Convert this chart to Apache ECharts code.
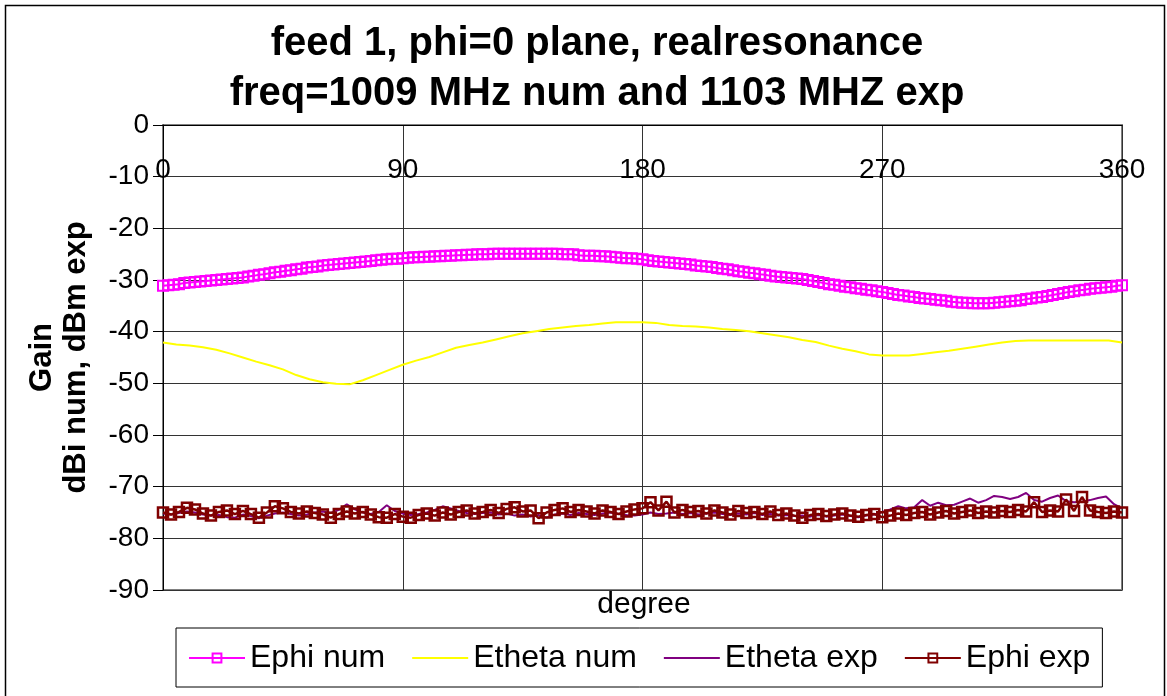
<!DOCTYPE html>
<html>
<head>
<meta charset="utf-8">
<script src="https://cdn.jsdelivr.net/npm/echarts@6/dist/echarts.min.js"></script>
<style>
html,body{margin:0;padding:0;background:#fff;}
#chart{width:1167px;height:696px;}
</style>
</head>
<body>
<div id="chart"></div>
<script>
// ---- data ----
var xTicks = [0, 90, 180, 270, 360];
var yTicks = [0, -10, -20, -30, -40, -50, -60, -70, -80, -90];
var seriesNames = ['Ephi num', 'Etheta num', 'Etheta exp', 'Ephi exp'];

// Ephi num, every 2 degrees from 0 to 360
var ephiNumStep = 2;
var ephiNum = [
-31.1,-31.0,-30.9,-30.8,-30.6,-30.5,-30.4,-30.3,-30.2,-30.1,
-30.0,-29.9,-29.8,-29.7,-29.6,-29.5,-29.3,-29.2,-29.0,-28.9,
-28.7,-28.5,-28.4,-28.2,-28.1,-27.9,-27.8,-27.6,-27.5,-27.4,
-27.2,-27.1,-27.0,-26.9,-26.8,-26.7,-26.6,-26.5,-26.4,-26.3,
-26.2,-26.1,-26.0,-25.9,-25.9,-25.8,-25.7,-25.6,-25.6,-25.5,
-25.5,-25.4,-25.4,-25.3,-25.3,-25.2,-25.2,-25.1,-25.1,-25.0,
-25.0,-25.0,-24.9,-24.9,-24.9,-24.9,-24.9,-24.9,-24.9,-24.9,
-24.9,-24.9,-24.9,-24.9,-24.9,-25.0,-25.0,-25.0,-25.2,-25.3,
-25.3,-25.3,-25.4,-25.4,-25.5,-25.6,-25.7,-25.8,-25.8,-25.9,
-26.0,-26.2,-26.3,-26.4,-26.5,-26.6,-26.7,-26.8,-26.9,-27.0,
-27.2,-27.3,-27.4,-27.5,-27.7,-27.8,-27.9,-28.1,-28.3,-28.4,
-28.6,-28.7,-28.9,-29.0,-29.2,-29.3,-29.4,-29.5,-29.6,-29.7,
-29.8,-30.0,-30.2,-30.4,-30.6,-30.8,-30.9,-31.1,-31.3,-31.4,
-31.6,-31.7,-31.9,-32.0,-32.2,-32.3,-32.5,-32.7,-32.9,-33.0,
-33.2,-33.3,-33.5,-33.6,-33.7,-33.8,-33.9,-34.0,-34.2,-34.3,
-34.4,-34.4,-34.5,-34.5,-34.5,-34.5,-34.4,-34.3,-34.2,-34.1,
-34.0,-33.9,-33.7,-33.6,-33.4,-33.3,-33.1,-32.9,-32.7,-32.5,
-32.3,-32.2,-32.0,-31.9,-31.7,-31.6,-31.5,-31.4,-31.3,-31.1,
-31.0
];

// Etheta num, every 5 degrees
var ethetaNumStep = 5;
var ethetaNum = [
-42.1,-42.5,-42.7,-43.0,-43.5,-44.2,-45.0,-45.8,-46.5,-47.3,
-48.4,-49.2,-49.8,-50.1,-50.2,-49.4,-48.4,-47.4,-46.4,-45.6,
-44.9,-44.0,-43.1,-42.6,-42.1,-41.5,-40.9,-40.3,-39.9,-39.5,
-39.2,-38.9,-38.7,-38.4,-38.2,-38.2,-38.2,-38.3,-38.7,-38.9,
-39.0,-39.2,-39.5,-39.7,-39.9,-40.3,-40.7,-41.1,-41.6,-42.0,
-42.7,-43.3,-43.8,-44.4,-44.6,-44.6,-44.6,-44.3,-44.0,-43.7,
-43.3,-42.9,-42.5,-42.1,-41.8,-41.7,-41.7,-41.7,-41.7,-41.7,
-41.7,-41.7,-42.1
];

// Experimental data, every 3 degrees
var expStep = 3;
var ethetaExp = [
-75.2,-75.4,-75.1,-74.8,-75.0,-75.4,-75.6,-75.5,-75.9,-76.0,
-75.4,-75.7,-76.1,-75.6,-75.2,-75.0,-75.3,-75.6,-75.4,-75.0,
-74.8,-75.1,-74.5,-73.4,-74.4,-75.0,-75.3,-74.9,-73.6,-74.7,
-75.2,-75.5,-75.3,-75.0,-74.5,-73.8,-74.2,-74.7,-75.1,-75.3,
-75.1,-75.0,-75.4,-75.2,-75.6,-75.4,-75.8,-75.5,-76.0,-75.4,
-75.2,-75.5,-75.1,-75.3,-75.5,-75.2,-75.0,-75.3,-75.5,-75.6,
-75.4,-75.0,-75.3,-75.2,-75.0,-75.3,-75.1,-75.4,-75.2,-75.0,
-75.3,-75.5,-75.2,-75.4,-75.1,-75.5,-75.3,-75.6,-75.5,-75.7,
-75.6,-75.8,-75.5,-75.8,-75.6,-75.4,-75.7,-75.9,-75.6,-75.4,
-74.9,-74.4,-73.8,-74.2,-74.0,-72.6,-73.7,-73.1,-73.6,-73.5,
-72.9,-72.3,-73.1,-72.6,-71.8,-72.0,-72.4,-72.0,-71.2,-72.6,
-72.9,-72.2,-71.7,-72.8,-73.0,-72.9,-72.6,-72.2,-71.9,-73.4,
-74.2
];
var ephiExp = [
-75.0,-75.4,-74.9,-74.1,-74.4,-75.2,-75.6,-74.9,-74.6,-75.3,
-74.7,-75.3,-76.0,-75.0,-73.8,-74.2,-74.9,-75.2,-74.8,-75.1,
-75.4,-76.0,-75.3,-74.8,-75.2,-74.9,-75.4,-75.9,-76.0,-75.3,
-75.8,-76.0,-75.5,-75.2,-75.6,-75.0,-75.4,-74.9,-74.6,-75.2,
-74.9,-74.5,-75.1,-74.3,-74.0,-74.8,-74.6,-76.1,-75.0,-74.5,
-74.2,-74.9,-74.5,-74.8,-75.2,-74.6,-74.9,-75.3,-74.8,-74.4,
-74.2,-73.0,-74.6,-72.9,-75.0,-74.5,-74.9,-74.7,-75.2,-74.6,
-75.0,-75.4,-74.7,-75.1,-74.9,-75.3,-74.8,-75.5,-75.2,-75.6,
-76.0,-75.5,-75.3,-75.7,-75.4,-75.2,-75.6,-75.8,-75.5,-75.3,
-75.9,-75.6,-75.2,-75.5,-75.1,-74.9,-75.4,-75.0,-74.7,-75.2,
-74.9,-74.6,-75.1,-74.8,-75.0,-74.7,-74.9,-74.5,-74.8,-73.0,
-74.9,-74.6,-74.8,-72.5,-74.7,-72.0,-74.6,-74.9,-75.1,-74.8,
-75.0
];

function pairs(arr, step) {
  return arr.map(function (v, i) { return [i * step, v]; });
}

var FONT = 'Arial, "Liberation Sans", sans-serif';
var chart = echarts.init(document.getElementById('chart'), null, {renderer: 'canvas'});

var option = {
  backgroundColor: '#ffffff',
  animation: false,
  textStyle: {fontFamily: FONT, color: '#000'},
  title: {
    text: 'feed 1, phi=0 plane, realresonance\nfreq=1009 MHz num and 1103 MHZ exp',
    left: 597,
    textAlign: 'center',
    top: 19,
    padding: 0,
    textStyle: {fontFamily: FONT, fontSize: 40, fontWeight: 'bold', lineHeight: 50, color: '#000'}
  },
  grid: {
    left: 163, right: 45, top: 125, bottom: 106,
    show: true, borderColor: '#808080', borderWidth: 2, backgroundColor: 'transparent'
  },
  legend: {
    data: [
      {name: seriesNames[0]},
      {name: seriesNames[1], itemStyle: {opacity: 0}},
      {name: seriesNames[2], itemStyle: {opacity: 0}},
      {name: seriesNames[3]}
    ],
    left: 176, top: 628,
    padding: [12, 12, 11, 12],
    itemGap: 26,
    itemWidth: 56,
    itemHeight: 11,
    borderColor: '#000', borderWidth: 1,
    textStyle: {fontFamily: FONT, fontSize: 32, color: '#000', lineHeight: 36}
  },
  xAxis: {
    type: 'value',
    position: 'top',
    min: xTicks[0], max: xTicks[xTicks.length - 1], interval: 90,
    axisLine: {show: true, onZero: false, lineStyle: {color: '#000', width: 1}},
    axisTick: {show: false},
    axisLabel: {inside: true, margin: 31, fontSize: 28, color: '#000', fontFamily: FONT,
      showMinLabel: true, showMaxLabel: true},
    splitLine: {show: true, lineStyle: {color: '#333', width: 1}}
  },
  yAxis: {
    type: 'value',
    min: yTicks[yTicks.length - 1], max: yTicks[0], interval: 10,
    name: 'Gain\ndBi num, dBm exp',
    nameLocation: 'middle',
    nameRotate: 90,
    nameGap: 70,
    nameTextStyle: {fontFamily: FONT, fontSize: 31, fontWeight: 'bold', lineHeight: 34, color: '#000'},
    axisLine: {show: true, onZero: false, lineStyle: {color: '#000', width: 1}},
    axisTick: {show: true, length: 10, lineStyle: {color: '#000'}},
    axisLabel: {fontSize: 28, color: '#000', margin: 14, fontFamily: FONT},
    splitLine: {show: true, lineStyle: {color: '#333', width: 1}}
  },
  graphic: [
    {type: 'rect', silent: true, z: -10,
     shape: {x: 5.5, y: 5.5, width: 1159, height: 700},
     style: {fill: 'none', stroke: '#000', lineWidth: 1.5}},
    {type: 'text', silent: true, x: 644, y: 605,
     style: {text: 'degree', fontFamily: FONT, fontSize: 30, fill: '#000',
       textAlign: 'center', textVerticalAlign: 'middle'}}
  ],
  series: [
    {
      name: seriesNames[0], type: 'line',
      data: pairs(ephiNum, ephiNumStep),
      symbol: 'rect', symbolSize: 10, showAllSymbol: true,
      lineStyle: {color: '#FF00FF', width: 2},
      itemStyle: {color: 'rgba(255,255,255,0)', borderColor: '#FF00FF', borderWidth: 2},
      emphasis: {disabled: true}
    },
    {
      name: seriesNames[1], type: 'line',
      data: pairs(ethetaNum, ethetaNumStep),
      symbol: 'none', showSymbol: false,
      lineStyle: {color: '#FFFF00', width: 2},
      itemStyle: {color: '#FFFF00'},
      emphasis: {disabled: true}
    },
    {
      name: seriesNames[2], type: 'line',
      data: pairs(ethetaExp, expStep),
      symbol: 'none', showSymbol: false,
      lineStyle: {color: '#800080', width: 2},
      itemStyle: {color: '#800080'},
      emphasis: {disabled: true}
    },
    {
      name: seriesNames[3], type: 'line',
      data: pairs(ephiExp, expStep),
      symbol: 'rect', symbolSize: 10, showAllSymbol: true,
      lineStyle: {color: '#800000', width: 2.5},
      itemStyle: {color: 'rgba(255,255,255,0)', borderColor: '#800000', borderWidth: 2.5},
      emphasis: {disabled: true}
    }
  ]
};
chart.setOption(option);
</script>
</body>
</html>
